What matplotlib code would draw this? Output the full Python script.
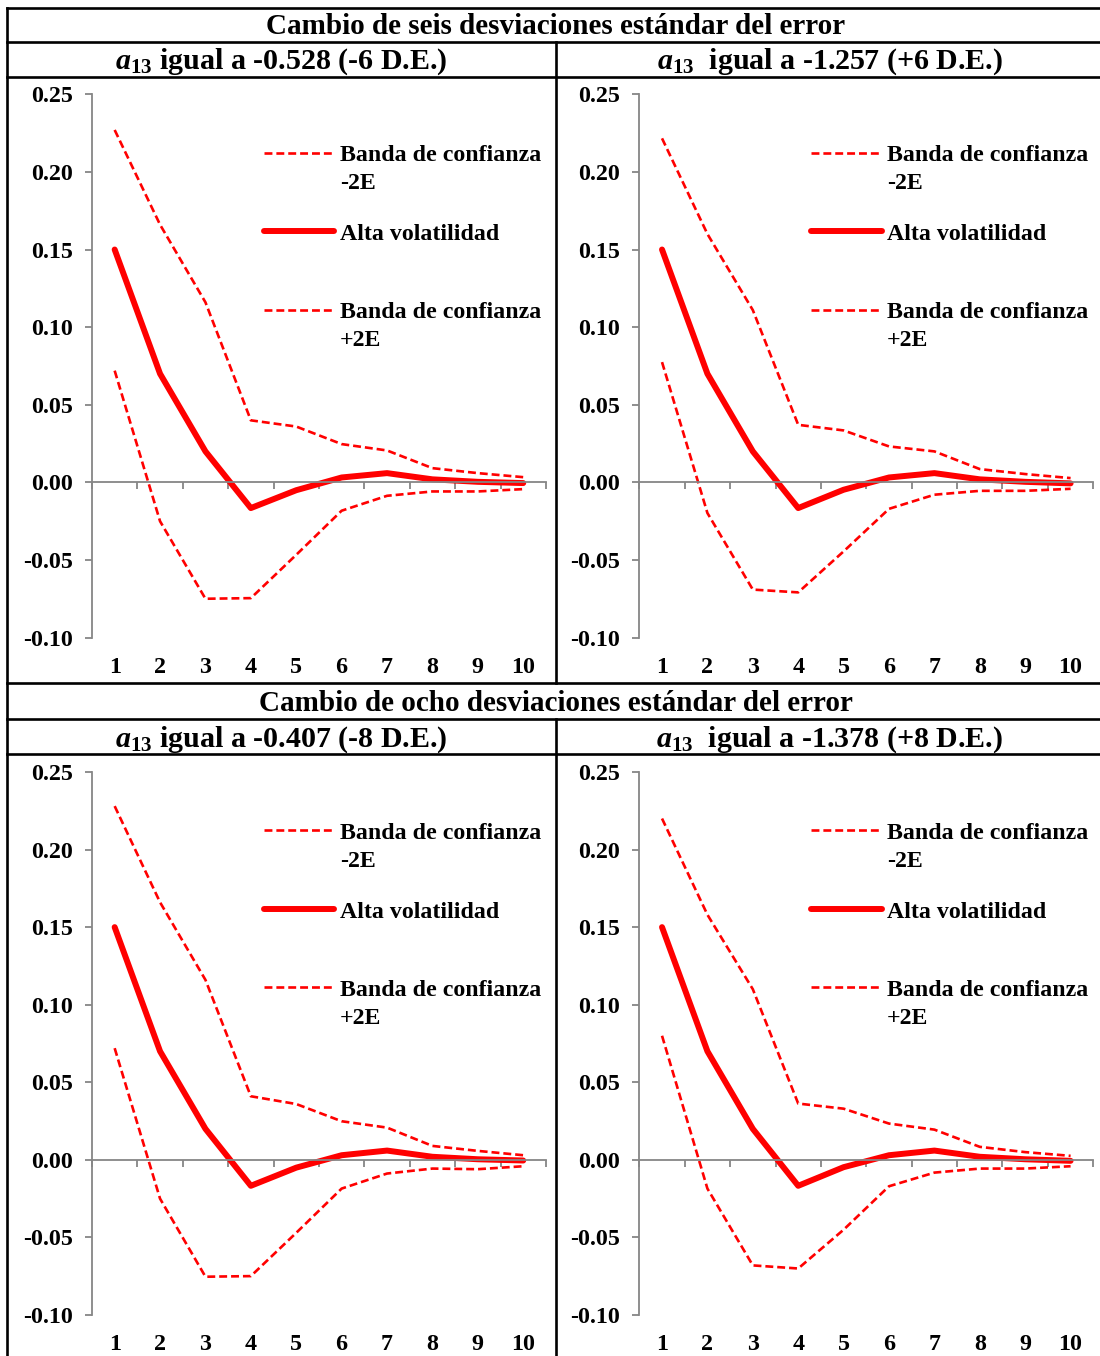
import matplotlib

matplotlib.use("Agg")
import matplotlib.pyplot as plt
import numpy as np
from matplotlib.legend_handler import HandlerLine2D
from matplotlib.lines import Line2D

plt.rcParams["font.family"] = ["Liberation Serif", "DejaVu Serif"]
plt.rcParams["font.weight"] = "bold"
plt.rcParams["axes.unicode_minus"] = False
plt.rcParams["mathtext.fontset"] = "custom"
plt.rcParams["mathtext.it"] = "Liberation Serif:italic:bold"
plt.rcParams["mathtext.rm"] = "Liberation Serif:bold"
plt.rcParams["mathtext.bf"] = "Liberation Serif:bold"

# periodos de la respuesta
periodos = list(range(1, 11))
etiquetas_x = [str(p) for p in periodos]

# cambio de seis desviaciones, a13 = -0.528
alta_6n = [0.150, 0.070, 0.020, -0.0165, -0.005, 0.0032, 0.006, 0.002, 0.0004, -0.0004]
sup_6n = [0.227, 0.166, 0.116, 0.040, 0.036, 0.0247, 0.0206, 0.0092, 0.006, 0.0034]
inf_6n = [0.072, -0.025, -0.0749, -0.0745, -0.0466, -0.0182, -0.0086, -0.0058, -0.0058, -0.0043]

# cambio de seis desviaciones, a13 = -1.257
alta_6p = [0.150, 0.070, 0.020, -0.0165, -0.0047, 0.0032, 0.006, 0.002, 0.0004, -0.0006]
sup_6p = [0.2216, 0.160, 0.111, 0.0371, 0.0335, 0.0232, 0.020, 0.0086, 0.0054, 0.0028]
inf_6p = [0.0775, -0.0197, -0.069, -0.0708, -0.0444, -0.017, -0.0079, -0.0054, -0.0054, -0.0041]

# cambio de ocho desviaciones, a13 = -0.407
alta_8n = [0.150, 0.070, 0.020, -0.0167, -0.005, 0.003, 0.006, 0.002, 0.0004, -0.0004]
sup_8n = [0.228, 0.166, 0.116, 0.041, 0.036, 0.0249, 0.0208, 0.009, 0.0058, 0.003]
inf_8n = [0.072, -0.025, -0.0753, -0.0749, -0.047, -0.0185, -0.0088, -0.0056, -0.006, -0.0041]

# cambio de ocho desviaciones, a13 = -1.378
alta_8p = [0.150, 0.070, 0.020, -0.0167, -0.0047, 0.003, 0.006, 0.002, 0.0004, -0.0006]
sup_8p = [0.220, 0.158, 0.110, 0.0363, 0.033, 0.0234, 0.0195, 0.0084, 0.005, 0.0026]
inf_8p = [0.080, -0.0185, -0.068, -0.070, -0.045, -0.017, -0.0082, -0.0056, -0.0056, -0.0041]

titulos = ["Cambio de seis desviaciones estándar del error",
           "Cambio de ocho desviaciones estándar del error"]
subtitulos = [r"$a_{13}$ igual a -0.528 (-6 D.E.)", r"$a_{13}$  igual a -1.257 (+6 D.E.)",
              r"$a_{13}$ igual a -0.407 (-8 D.E.)", r"$a_{13}$  igual a -1.378 (+8 D.E.)"]
leyenda = ["Banda de confianza\n-2E", "Alta volatilidad\n ", "Banda de confianza\n+2E"]

ROJO = "#FF0000"
GRIS = "#868686"
FS = 17.3
FS_LEG = 17.2
FS_TIT = 21
FS_SUB = 21.6


class PrimeraLinea(HandlerLine2D):
    """pone el simbolo a la altura de la primera linea del texto"""

    def __init__(self, shift, **kw):
        super().__init__(**kw)
        self.shift = shift

    def create_artists(self, legend, orig_handle, xdescent, ydescent, width,
                       height, fontsize, trans):
        arts = super().create_artists(legend, orig_handle, xdescent, ydescent,
                                      width, height, fontsize, trans)
        for a in arts:
            a.set_ydata(np.asarray(a.get_ydata()) + self.shift)
        return arts


def panel(rect, alta, sup, inf):
    ax = fig.add_axes(rect)
    x = np.array(periodos)
    l_inf, = ax.plot(x, inf, color=ROJO, lw=1.9, dashes=(3.0, 1.5))
    l_alta, = ax.plot(x, alta, color=ROJO, lw=4.3, solid_capstyle="round")
    l_sup, = ax.plot(x, sup, color=ROJO, lw=1.9, dashes=(3.0, 1.5))
    ax.set_xlim(0.5, 10.5)
    ax.set_ylim(-0.10, 0.25)
    ax.set_yticks(np.arange(-0.10, 0.2501, 0.05))
    ax.yaxis.set_major_formatter(plt.FuncFormatter(lambda v, p: f"{v:.2f}"))
    ax.tick_params(axis="y", length=5, color=GRIS, width=1.3, labelsize=FS, pad=9)
    for s in ("top", "right"):
        ax.spines[s].set_visible(False)
    ax.spines["left"].set_color(GRIS)
    ax.spines["bottom"].set_color(GRIS)
    ax.spines["left"].set_linewidth(1.3)
    ax.spines["bottom"].set_linewidth(1.3)
    ax.spines["bottom"].set_position(("data", 0))
    ax.set_xticks(x)
    ax.tick_params(axis="x", which="major", length=0, labelbottom=False)
    ax.set_xticks(np.arange(0.5, 10.6, 1), minor=True)
    ax.tick_params(axis="x", which="minor", length=5, color=GRIS, width=1.3)
    sec = ax.secondary_xaxis(0.0)
    sec.set_xticks(x, labels=etiquetas_x)
    sec.spines["bottom"].set_visible(False)
    sec.tick_params(length=0, pad=14, labelsize=FS)
    leg = ax.legend([l_inf, l_alta, l_sup], leyenda, loc="upper left",
                    bbox_to_anchor=(0.379, 0.906), frameon=False,
                    handlelength=2.95, handletextpad=0.22, labelspacing=1.25,
                    borderpad=0, borderaxespad=0, fontsize=FS_LEG,
                    handler_map={Line2D: PrimeraLinea(0.7 * FS_LEG)})
    for t in leg.get_texts():
        t.set_linespacing(1.42)
    return ax


fig = plt.figure(figsize=(11, 13.56), dpi=100)

xl, xr, w = 0.0836, 0.5812, 0.4127
panel([xl, 0.5297, w, 0.4008], alta_6n, sup_6n, inf_6n)
panel([xr, 0.5297, w, 0.4008], alta_6p, sup_6p, inf_6p)
panel([xl, 0.0302, w, 0.4005], alta_8n, sup_8n, inf_8n)
panel([xr, 0.0302, w, 0.4005], alta_8p, sup_8p, inf_8p)

# cabeceras de la tabla
fig.text(0.5055, 0.9803, titulos[0], ha="center", va="center", fontsize=FS_TIT)
fig.text(0.5055, 0.4810, titulos[1], ha="center", va="center", fontsize=FS_TIT)
fig.text(0.2560, 0.9548, subtitulos[0], ha="center", va="center", fontsize=FS_SUB)
fig.text(0.7545, 0.9548, subtitulos[1], ha="center", va="center", fontsize=FS_SUB)
fig.text(0.2560, 0.4548, subtitulos[2], ha="center", va="center", fontsize=FS_SUB)
fig.text(0.7545, 0.4548, subtitulos[3], ha="center", va="center", fontsize=FS_SUB)

# bordes de la tabla
kw = dict(color="black", lw=1.9, transform=fig.transFigure)
for yy in (0.9941, 0.9690, 0.9432, 0.4963, 0.4698, 0.4440):
    fig.add_artist(Line2D([0.0064, 1.0], [yy, yy], **kw))
fig.add_artist(Line2D([0.0064, 0.0064], [0.0, 0.9941], **kw))
fig.add_artist(Line2D([0.5059, 0.5059], [0.4963, 0.9690], **kw))
fig.add_artist(Line2D([0.5059, 0.5059], [0.0, 0.4698], **kw))

fig.savefig("out.png", dpi=100, facecolor="white")
